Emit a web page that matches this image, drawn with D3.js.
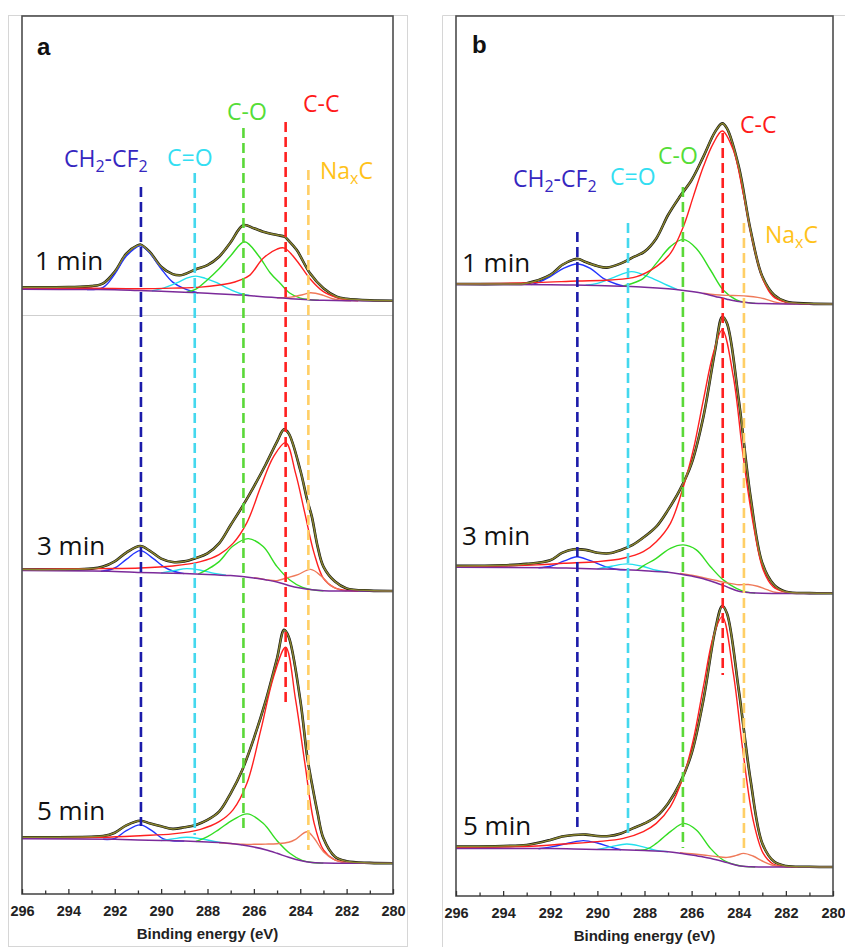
<!DOCTYPE html>
<html>
<head>
<meta charset="utf-8">
<script src="https://cdn.jsdelivr.net/npm/d3@7"></script>
<style>
  html, body { margin: 0; padding: 0; background: #fff; }
  svg { display: block; }
</style>
</head>
<body>
<script>
// binding energy axis
var ticksMajor = [296, 294, 292, 290, 288, 286, 284, 282, 280];
var ticksMinor = [295, 293, 291, 289, 287, 285, 283, 281];
var timeLabels = ["1 min", "3 min", "5 min"];
// peak positions (eV) marked by the dashed lines: CH2-CF2, C=O, C-O, C-C, NaxC
var centersA = [290.87, 288.55, 286.45, 284.63, 283.65];
var centersB = [290.85, 288.7, 286.37, 284.68, 283.78];

// spectra, [binding energy, intensity a.u.]
// panel a, 1 min
var a1Total = [[296,6.7],[294,6.8],[293,7.3],[292.5,8.7],[292,14.5],[291.5,23.5],[291,27.7],[290.88,28],[290.5,24.5],[290,17],[289.5,13.3],[289.2,12.7],[289,13.2],[288.5,15.7],[288,17.8],[287.5,22],[287.03,28.7],[286.45,37.8],[286,36.2],[285.6,34.5],[285,32.8],[284.68,32],[284.5,30],[284.15,25.3],[283.58,13.7],[283,6.2],[282.43,2],[282,1],[281,0.2],[280,0]];
var a1Bg = [[296,5.7],[293,5.6],[292,5.5],[291,5.1],[290,4.7],[289,4.2],[288,3.7],[287,3.1],[286.5,2.8],[286,2.4],[285.5,1.9],[285,1.5],[284.5,1.1],[284,0.7],[283.5,0.4],[283,0.2],[282,0],[280,0]];
var a1CF = [[293.2,5.6],[292.5,6.7],[292,13.3],[291.5,22.3],[290.9,27.5],[290.5,24],[290,16],[289.5,9.3],[289,6],[288.4,3.9]];
var a1CdO = [[290.4,4.9],[289.9,6.3],[289.3,9],[288.9,11.3],[288.5,12.3],[288.1,11.2],[287.6,9],[287.1,6],[286.6,3.6],[286.2,2.6]];
var a1CO = [[288.9,4.3],[288.5,5.8],[288,10.5],[287.5,16],[287,22.5],[286.4,29.5],[285.8,22.5],[285.3,14],[284.87,8.7],[284.44,3.7],[284,1.3],[283.6,0.5],[283.2,0.2]];
var a1CC = [[296,6.3],[293,6.2],[290.9,6],[289.5,6.3],[288.3,6.8],[287.03,8.7],[286.6,10.3],[286.17,12.8],[285.6,21.2],[285,25.8],[284.68,26.3],[284.15,20],[283.58,11],[283,4.5],[282.43,1.5],[282,0.4],[281.5,0]];
var a1NaC = [[285,1.5],[284.4,1.8],[283.9,3],[283.55,4],[283,2.7],[282.6,1],[282.2,0.2],[281.8,0]];
// panel a, 3 min
var a2Total = [[296,10.7],[293,11.2],[292.5,12.2],[292,14.8],[291.5,19.2],[290.9,22.5],[290.5,20.2],[290,16.2],[289.5,14.5],[289,14.8],[288.5,16.5],[288,18.8],[287.5,23.8],[287,33],[286.5,42.2],[286,52.2],[285.5,63],[285,74.7],[284.7,80.8],[284.5,78.8],[284,60.5],[283.7,45.5],[283.5,37.2],[283.25,22.2],[283,12.2],[282.5,4.7],[282,1.3],[281,0.2],[280,0]];
var a2Bg = [[296,10.2],[292,9.8],[291,9.3],[290,9],[289,8.7],[288,8.3],[287,7.7],[286.5,7.2],[286,6.5],[285.5,5.6],[285,4.5],[284.5,2.8],[284,1.5],[283.5,0.6],[283,0.1],[282,0],[280,0]];
var a2CF = [[292.6,9.8],[292,11.5],[291.5,15.8],[290.9,20.2],[290.35,16.3],[289.9,12.2],[289.5,10],[289,8.7]];
var a2CdO = [[290,9],[289.4,10.3],[288.9,11.2],[288.3,10.4],[287.7,8.8],[287.2,7.9]];
var a2CO = [[288.4,8.4],[288,10.8],[287.5,14.7],[286.9,22.5],[286.24,26.2],[285.6,22.2],[285,12.2],[284.45,5.5],[283.9,1.8],[283.4,0.5],[283,0.1]];
var a2CC = [[296,10.8],[292.6,11.2],[290.9,11.5],[289.5,12.5],[288.3,14.7],[287.5,18.2],[286.9,23.8],[286.3,34.2],[285.7,52.2],[285.15,67.2],[284.63,74.2],[284.2,58.8],[283.8,38.8],[283.4,18.8],[283,6.3],[282.55,1.8],[282,0.2],[281.5,0]];
var a2NaC = [[286,6.6],[285.5,5.7],[285,5.2],[284.6,6.5],[284.1,8.2],[283.55,10.8],[283.1,7.5],[282.7,2.8],[282.3,0.6],[282,0]];
// panel a, 5 min
var a3Total = [[296,13],[293,13.3],[292.5,13.6],[292,15.3],[291.5,19],[290.9,21.3],[290.5,20],[290,18.5],[289.5,17.2],[289,18],[288.5,19.2],[288,21.7],[287.5,25.8],[287,35],[286.5,46.7],[286,62.5],[285.5,80.8],[285,102.5],[284.7,116.7],[284.5,113.3],[284,81.7],[283.7,53.3],[283.5,40],[283.25,25],[283,12.5],[282.5,3.3],[282,1],[281,0.2],[280,0]];
var a3Bg = [[296,12.3],[292,12],[291,11.7],[290,11.4],[289,11.1],[288,10.6],[287,9.9],[286.5,9.1],[286,8.1],[285.5,6.8],[285,5],[284.5,3],[284,1.4],[283.5,0.4],[283,0.1],[282,0],[280,0]];
var a3CF = [[292.5,12],[292,12.4],[291.5,16.3],[290.9,19.2],[290.4,16.3],[289.9,12.2],[289.5,11.3],[289,11.1]];
var a3CdO = [[290,11.4],[289.5,12.2],[288.9,13],[288.3,12.3],[287.7,10.9],[287.3,10.2]];
var a3CO = [[288.5,10.9],[288,13.3],[287.5,17],[286.9,21.7],[286.28,24.7],[285.6,20],[285,11.3],[284.45,5],[283.9,1.3],[283.4,0.3],[283,0.1]];
var a3CC = [[296,12.7],[292.6,13],[290.9,13.8],[289.5,14.7],[288.3,17],[287.5,20.8],[286.9,26.7],[286.3,40],[285.7,66.7],[285.15,93.3],[284.63,108],[284.2,81.7],[283.8,50],[283.4,20],[283,6.7],[282.55,2],[282,0.3],[281.5,0]];
var a3NaC = [[287.5,10.2],[287,9.9],[286.5,9.5],[286,9.5],[285.5,9.6],[285,9.8],[284.5,10.5],[284.2,12],[283.7,15.8],[283.4,12.5],[283,5.8],[282.55,2],[282,0.3],[281.5,0]];
// panel b, 1 min
var b1Total = [[296,10],[294,10],[293,10.4],[292,14.5],[291.5,19.5],[291,22.3],[290.8,22.5],[290.5,21],[290,19],[289.6,18.2],[289,20.3],[288.5,23.3],[288,26.2],[287.5,32.8],[287,44.5],[286.5,53.7],[286,62],[285.5,73.7],[285,86.2],[284.7,90.3],[284.5,87.8],[284,68.7],[283.5,37],[283,13.7],[282.5,4.5],[282,1.2],[281,0.2],[280,0]];
var b1Bg = [[296,9.8],[292,9.6],[291,9.5],[290,9.3],[289,8.9],[288,8.4],[287,7.6],[286.5,7],[286,6.2],[285.5,5.2],[285,3.8],[284.5,2.4],[284,1.2],[283.5,0.5],[283,0.2],[282,0],[280,0]];
var b1CF = [[292.8,9.7],[292.5,10.8],[292,13.7],[291.44,17.8],[290.87,20],[290.3,17.8],[289.75,12.8],[289.2,10],[288.8,8.8]];
var b1CdO = [[290.5,9.4],[290,10.3],[289.3,13.3],[288.55,16.2],[287.77,13.3],[287.06,9.5],[286.6,7.2]];
var b1CO = [[288.9,9],[288.6,10],[288.05,12.8],[287.5,20.3],[286.9,28.7],[286.35,32.3],[285.8,27.8],[285.2,17],[284.66,7],[284.1,2],[283.7,0.8],[283.3,0.3]];
var b1CC = [[296,10],[292.57,10.7],[290.87,11.5],[289.46,12],[288.33,13.7],[287.5,18.7],[286.9,25.3],[286.35,38.7],[285.93,53.7],[285.5,68.7],[285.08,80.3],[284.7,86.5],[284.23,77],[283.81,55.3],[283.39,30.3],[282.96,12],[282.54,3.7],[282.1,1.2],[281.5,0.2],[281,0]];
var b1NaC = [[285.5,5.4],[285,4.6],[284.5,4.3],[284,4.2],[283.6,3.9],[283.2,3.3],[282.8,2.2],[282.4,0.8],[282,0.2],[281.6,0]];
// panel b, 3 min
var b2Total = [[296,13.7],[294,14],[293,14.7],[292,16.5],[291.5,20.2],[291,22],[290.5,21.7],[290,20.3],[289.5,20],[289,21.7],[288.5,24.2],[288,28.3],[287.5,33.3],[287,41.7],[286.5,51.7],[286,65],[285.5,88.3],[285,121.7],[284.7,138.3],[284.5,135],[284,96.7],[283.5,48.3],[283,15],[282.5,4.2],[282,0.8],[281,0.1],[280,0]];
var b2Bg = [[296,13],[292,12.8],[291,12.5],[290,12.2],[289,11.9],[288,11.3],[287,10.5],[286.5,9.7],[286,8.6],[285.5,7.3],[285,5.4],[284.5,3.2],[284,1],[283.5,0.3],[283,0],[280,0]];
var b2CF = [[292.5,12.8],[292,13.5],[291.4,16.2],[290.87,18.3],[290.3,16.3],[289.7,13.5],[289.2,12],[288.8,11.7]];
var b2CdO = [[290,12.2],[289.4,13.5],[288.75,14.7],[288.1,13.5],[287.5,11.5],[287,10.5]];
var b2CO = [[288.33,11.5],[288.05,13.7],[287.5,17.5],[286.9,22.5],[286.35,24.2],[285.8,21.7],[285.2,13.3],[284.66,6.7],[284.1,2.5],[283.7,0.7],[283.3,0.1]];
var b2CC = [[296,13.3],[292.57,14.2],[291.44,15],[290,15.8],[288.9,17.5],[288.05,20.8],[287.5,25.8],[286.9,35],[286.35,53.3],[285.93,71.7],[285.5,96.7],[285.08,120],[284.7,131.7],[284.23,108.3],[283.81,68.3],[283.39,35],[282.96,11.7],[282.54,3.3],[282.1,0.8],[281.5,0]];
var b2NaC = [[286.5,9.9],[286,9],[285.5,7.8],[285,6.5],[284.5,5.2],[284,4.3],[283.6,4.4],[283.2,3.5],[282.8,1.8],[282.4,0.4],[282,0]];
// panel b, 5 min
var b3Total = [[296,10.2],[294,10.5],[293,11],[292,13.5],[291.5,15.2],[291,16],[290.5,16.2],[290,15.5],[289.5,15.5],[289,16.8],[288.5,19.3],[288,21.8],[287.5,25.2],[287,31.8],[286.5,41.8],[286,56.8],[285.5,83.5],[285,118.5],[284.7,130.5],[284.5,126.8],[284,88.5],[283.5,43.5],[283,11.8],[282.5,2.7],[282,0.5],[281,0.1],[280,0]];
var b3Bg = [[296,9.3],[292,9.2],[291,9],[290,8.8],[289,8.6],[288,8.2],[287,7.6],[286.5,6.9],[286,6],[285.5,5],[285,3.8],[284.5,2.2],[284,0.6],[283.5,0.1],[283,0],[280,0]];
var b3CF = [[292.5,9.1],[291.9,10.2],[291.2,12],[290.6,13.2],[290,12],[289.4,9.8],[289,8.6]];
var b3CdO = [[290,8.8],[289.4,10.2],[288.75,11.5],[288.1,10.2],[287.5,8.3],[287,7.6]];
var b3CO = [[288.4,8.4],[287.9,8.9],[287.5,11.8],[286.9,17.7],[286.33,21.8],[285.8,18.5],[285.2,9.3],[284.66,3.5],[284.1,1],[283.7,0.2],[283.3,0]];
var b3CC = [[296,9.8],[292.57,10.5],[291.44,11.5],[290,12.7],[288.9,14.3],[288.05,17.7],[287.5,21.8],[286.9,30.2],[286.35,45.2],[285.93,63.5],[285.5,90.2],[285.08,115.2],[284.7,125.2],[284.23,96.8],[283.81,56.8],[283.39,23.5],[282.96,6.8],[282.54,1.5],[282.1,0.3],[281.5,0]];
var b3NaC = [[286.5,7.1],[286,6.6],[285.5,6],[285,5.3],[284.5,4.8],[284.1,5.8],[283.8,6.8],[283.4,5.5],[283,3],[282.6,1],[282.2,0.2],[281.8,0]];

// ---- layout and styling ----
var W = 845, H = 947;
var compColors = ["#2234ff", "#22e0ee", "#33dd22", "#ff1f1f", "#ef7a5a"];
var dashColors = ["#1c1caa", "#44d8ee", "#5ad838", "#ff2020", "#ffcf66"];
var labelColors = ["#3526c0", "#33def2", "#55dd38", "#ff1a1a", "#ffc21a"];

var panels = [
  { name: "a", left: 22, right: 393, top: 16, bottom: 894,
    centers: centersA,
    rows: [[a1Total, a1Bg, a1CF, a1CdO, a1CO, a1CC, a1NaC],
           [a2Total, a2Bg, a2CF, a2CdO, a2CO, a2CC, a2NaC],
           [a3Total, a3Bg, a3CF, a3CdO, a3CO, a3CC, a3NaC]],
    base: [300.7, 591, 863.3],
    timePos: [[35, 270], [37, 555], [37, 820]],
    dashTop: [187, 173, 128, 122, 170],
    dashBot: [826, 835, 828, 702, 850],
    labelPos: [[64, 167], [167, 166], [227, 120], [303, 112], [320, 179]],
    letter: [37, 55] },
  { name: "b", left: 456, right: 833, top: 16, bottom: 896,
    centers: centersB,
    rows: [[b1Total, b1Bg, b1CF, b1CdO, b1CO, b1CC, b1NaC],
           [b2Total, b2Bg, b2CF, b2CdO, b2CO, b2CC, b2NaC],
           [b3Total, b3Bg, b3CF, b3CdO, b3CO, b3CC, b3NaC]],
    base: [304, 593.3, 867],
    timePos: [[462, 272], [462, 545], [463, 835]],
    dashTop: [232, 223, 187, 133, 223],
    dashBot: [830, 838, 848, 675, 853],
    labelPos: [[513, 187], [610, 185], [658, 164], [740, 133], [765, 243]],
    letter: [472, 53] }
];

var svg = d3.select("body").append("svg")
  .attr("width", W)
  .attr("height", H);

// light outer frames of the two figure parts
svg.append("rect").attr("x", 8.5).attr("y", 15.5).attr("width", 399).attr("height", 931)
  .attr("fill", "none").attr("stroke", "#d6d6d6").attr("stroke-width", 1);
svg.append("path").attr("d", "M442.5,947V15.5H845")
  .attr("fill", "none").attr("stroke", "#d6d6d6").attr("stroke-width", 1);

panels.forEach(function(p, pi) {
  var g = svg.append("g");
  var x = d3.scaleLinear().domain([296, 280]).range([p.left, p.right]);

  var clipId = "clip" + pi;
  svg.append("clipPath").attr("id", clipId).append("rect")
    .attr("x", p.left).attr("y", p.top)
    .attr("width", p.right - p.left).attr("height", p.bottom - p.top);

  var plot = g.append("g").attr("clip-path", "url(#" + clipId + ")");

  if (p.name == "a") {
    // seam between the stacked sub-plots
    plot.append("line").attr("x1", p.left).attr("x2", p.right)
      .attr("y1", 315.5).attr("y2", 315.5)
      .attr("stroke", "#cfcfcf").attr("stroke-width", 1);
  }

  p.rows.forEach(function(r, ri) {
    var y = d3.scaleLinear().domain([0, 100]).range([p.base[ri], p.base[ri] - 200]);
    var line = d3.line()
      .x(function(d) { return x(d[0]); })
      .y(function(d) { return y(d[1]); })
      .curve(d3.curveCatmullRom.alpha(0.5));
    var rg = plot.append("g");
    // measured spectrum
    rg.append("path").attr("d", line(r[0]))
      .attr("fill", "none").attr("stroke", "#111").attr("stroke-width", 2.6)
      .attr("stroke-linejoin", "round");
    // components
    [2, 3, 4, 5, 6].forEach(function(k, ci) {
      rg.append("path").attr("d", line(r[k]))
        .attr("fill", "none").attr("stroke", compColors[ci]).attr("stroke-width", 1.4);
    });
    // background
    rg.append("path").attr("d", line(r[1]))
      .attr("fill", "none").attr("stroke", "#7b2a9a").attr("stroke-width", 1.5);
    // fit envelope
    rg.append("path").attr("d", line(r[0]))
      .attr("fill", "none").attr("stroke", "#8a8630").attr("stroke-width", 1.5)
      .attr("stroke-linejoin", "round");

    g.append("text").attr("x", p.timePos[ri][0]).attr("y", p.timePos[ri][1])
      .attr("font-family", "'Open Sans', sans-serif").attr("font-size", 26)
      .attr("fill", "#111").text(timeLabels[ri]);
  });

  // dashed peak markers
  p.centers.forEach(function(c, i) {
    g.append("line")
      .attr("x1", x(c)).attr("x2", x(c))
      .attr("y1", p.dashTop[i]).attr("y2", p.dashBot[i])
      .attr("stroke", dashColors[i]).attr("stroke-width", 2.6)
      .attr("stroke-dasharray", "10,5");
  });

  // peak labels
  var font = "'Open Sans', sans-serif";
  function label(i) {
    return g.append("text").attr("x", p.labelPos[i][0]).attr("y", p.labelPos[i][1])
      .attr("font-family", font).attr("font-size", 23).attr("fill", labelColors[i]);
  }
  var t0 = label(0);
  t0.append("tspan").text("CH");
  t0.append("tspan").attr("font-size", 16).attr("dy", 5).text("2");
  t0.append("tspan").attr("dy", -5).text("-CF");
  t0.append("tspan").attr("font-size", 16).attr("dy", 5).text("2");
  label(1).text("C=O");
  label(2).text("C-O");
  label(3).text("C-C");
  var t4 = label(4);
  t4.append("tspan").text("Na");
  t4.append("tspan").attr("font-size", 16).attr("dy", 5).text("x");
  t4.append("tspan").attr("dy", -5).text("C");

  // panel letter
  g.append("text").attr("x", p.letter[0]).attr("y", p.letter[1])
    .attr("font-family", "'Liberation Sans', Arial, sans-serif").attr("font-weight", "bold")
    .attr("font-size", 24).attr("fill", "#111").text(p.name);

  // frame
  g.append("rect").attr("x", p.left).attr("y", p.top)
    .attr("width", p.right - p.left).attr("height", p.bottom - p.top)
    .attr("fill", "none").attr("stroke", "#4d4d4d").attr("stroke-width", 1.6);

  // axis with inward ticks
  var axisMinor = d3.axisBottom(x).tickValues(ticksMinor).tickSizeInner(-3.5).tickSizeOuter(0).tickFormat("");
  var axisMajor = d3.axisBottom(x).tickValues(ticksMajor).tickSizeInner(-5).tickSizeOuter(0)
    .tickPadding(12).tickFormat(d3.format("d"));
  var ga = g.append("g").attr("transform", "translate(0," + p.bottom + ")");
  ga.append("g").call(axisMinor);
  ga.append("g").call(axisMajor);
  ga.selectAll(".domain").remove();
  ga.selectAll(".tick line").attr("stroke", "#333").attr("stroke-width", 1.3);
  ga.selectAll(".tick text")
    .attr("font-family", "'Liberation Sans', Arial, sans-serif")
    .attr("font-weight", "bold").attr("font-size", 14.5).attr("fill", "#222");

  g.append("text")
    .attr("x", (p.left + p.right) / 2).attr("y", p.bottom + 45)
    .attr("text-anchor", "middle")
    .attr("font-family", "'Liberation Sans', Arial, sans-serif")
    .attr("font-weight", "bold").attr("font-size", 15).attr("fill", "#222")
    .text("Binding energy (eV)");
});
</script>
</body>
</html>
